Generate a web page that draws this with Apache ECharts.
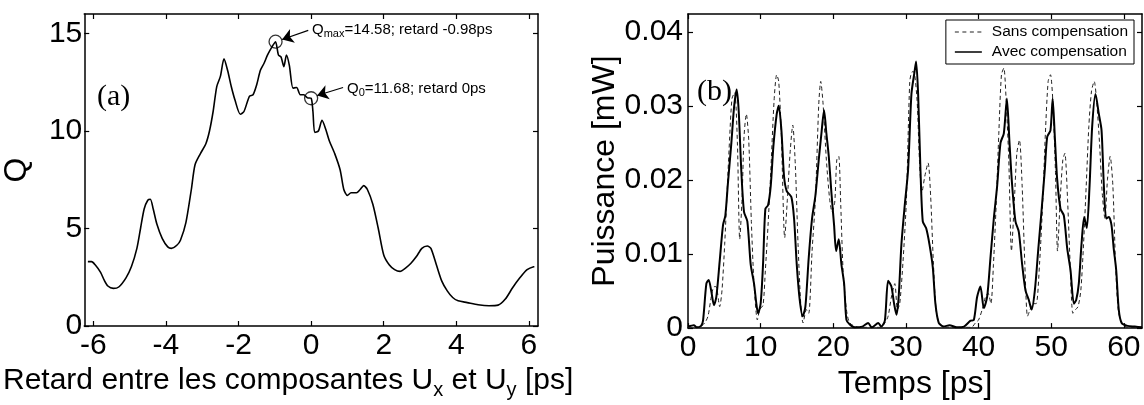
<!DOCTYPE html>
<html>
<head>
<meta charset="utf-8">
<script src="https://cdn.jsdelivr.net/npm/echarts@6/dist/echarts.min.js"></script>
<style>
html,body{margin:0;padding:0;background:#fff;}
#c{width:1144px;height:405px;}
</style>
</head>
<body>
<div id="c"></div>
<script>
// ---------- Panel (a): Q vs retard ----------
const retard = [-6.15,-6.05,-5.95,-5.8,-5.7,-5.6,-5.45,-5.3,-5.1,-4.95,-4.8,-4.7,-4.6,-4.5,-4.43,-4.35,-4.25,-4.1,-3.95,-3.85,-3.7,-3.6,-3.45,-3.3,-3.2,-3.05,-2.9,-2.8,-2.7,-2.6,-2.5,-2.4,-2.3,-2.2,-2.1,-1.95,-1.85,-1.7,-1.6,-1.5,-1.4,-1.3,-1.2,-1.05,-0.98,-0.9,-0.83,-0.75,-0.68,-0.6,-0.5,-0.4,-0.3,-0.2,-0.1,0,0.05,0.1,0.2,0.3,0.4,0.5,0.65,0.8,0.9,1.0,1.1,1.25,1.35,1.45,1.55,1.7,1.85,2.0,2.15,2.3,2.45,2.6,2.75,2.9,3.05,3.2,3.3,3.45,3.6,3.75,3.9,4.05,4.3,4.6,4.9,5.15,5.35,5.55,5.75,5.95,6.15];
const qValues = [3.3,3.3,3.14,2.75,2.35,2.05,1.93,2.0,2.47,3.05,3.98,5.0,6.0,6.45,6.5,6.0,5.23,4.48,4.06,3.98,4.14,4.4,5.3,7.0,8.26,8.84,9.35,10.0,11.0,12.28,12.8,13.7,13.1,12.28,11.6,10.86,11.0,11.78,11.86,12.37,13.1,13.46,13.9,14.4,14.58,13.9,13.8,13.3,13.9,13.37,12.2,12.23,11.86,11.86,11.7,11.68,11.0,9.93,10.0,10.55,10.1,9.5,8.84,8.0,7.0,6.7,6.83,6.83,7.0,7.2,7.0,6.24,5.0,3.64,3.14,2.89,2.8,2.97,3.22,3.56,3.98,4.1,3.98,3.14,2.3,1.8,1.46,1.29,1.2,1.09,1.04,1.07,1.38,1.96,2.47,2.89,3.05];
const annotX = [-0.98, 0];
const annotY = [14.58, 11.68];
const xTicksA = [-6,-4,-2,0,2,4,6];
const yTicksA = [0,5,10,15];

// ---------- Panel (b): Puissance vs temps ----------
const tAvec = [0,0.8,1.2,1.8,2.07,2.53,2.85,3.2,3.58,3.9,4.36,4.82,5.14,5.5,5.97,6.34,6.7,6.98,7.35,7.71,8.17,8.63,9.09,9.41,9.64,10.0,10.33,10.65,11.02,11.39,11.75,12.21,12.49,12.86,13.22,13.59,14.23,14.6,14.97,15.38,15.79,16.16,16.62,17.08,17.54,18.0,18.37,18.73,19.05,19.38,19.74,20.11,20.39,20.75,21.12,21.49,21.81,22.27,23.0,24.0,24.8,25.3,26.2,26.6,27.1,27.55,28.0,28.37,28.7,29.0,29.38,29.84,30.3,30.76,31.2,31.4,31.68,32.0,32.32,32.78,33.24,33.7,34.06,34.52,35.2,36.0,37.0,38.0,38.9,39.35,39.8,40.26,40.72,41.18,41.64,42.1,42.56,43.02,43.48,43.9,44.26,44.6,45.08,45.54,46.0,46.46,46.92,47.3,47.75,48.2,48.66,49.12,49.45,49.9,50.2,50.5,50.82,51.28,51.74,52.2,52.66,53.12,53.44,53.8,54.17,54.54,54.9,55.28,55.64,56.1,56.56,56.93,57.25,57.57,57.94,58.3,58.6,58.95,59.3,59.7,60.5,61.5,62.5];
const pAvec = [0.0002,0.0004,0.0001,0.0003,0.001,0.006,0.0065,0.005,0.0031,0.0042,0.009,0.0139,0.0152,0.0196,0.025,0.0298,0.0322,0.0293,0.021,0.0157,0.0144,0.0086,0.006,0.0033,0.002,0.0033,0.0086,0.0161,0.0166,0.0192,0.0245,0.0289,0.030,0.0267,0.0205,0.0185,0.0177,0.0148,0.0086,0.0038,0.0016,0.0029,0.0095,0.0148,0.0179,0.0227,0.0263,0.0294,0.0263,0.0232,0.0183,0.0139,0.0104,0.012,0.0086,0.006,0.0011,0.0005,0.0001,0.0002,0.0007,0.0001,0.0007,0.0002,0.001,0.0064,0.0056,0.0033,0.0018,0.0042,0.0113,0.0166,0.0214,0.0316,0.0347,0.036,0.0316,0.0214,0.0144,0.0135,0.0113,0.0082,0.0033,0.0007,0.0002,0.0004,0.0001,0.0002,0.001,0.0011,0.0042,0.0056,0.0027,0.0042,0.0095,0.0148,0.0192,0.025,0.0263,0.031,0.025,0.0196,0.0144,0.013,0.0086,0.0051,0.0038,0.0025,0.0051,0.0104,0.0157,0.0214,0.0258,0.0267,0.031,0.0258,0.0201,0.0161,0.0152,0.0108,0.0078,0.0033,0.0038,0.006,0.0113,0.015,0.0135,0.0192,0.0272,0.0316,0.0289,0.0267,0.0192,0.0148,0.015,0.0139,0.0108,0.0078,0.0025,0.0007,0.0003,0.0002,0.0001];
const tSans = [0,1.5,2.3,2.75,3.2,3.58,3.86,4.36,4.68,5.05,5.42,5.74,6.06,6.43,6.8,7.12,7.44,7.71,8.03,8.36,8.72,9.09,9.55,9.87,10.33,10.65,11.02,11.39,11.85,12.21,12.49,12.86,13.31,13.68,14.05,14.42,14.78,15.15,15.52,15.84,16.3,16.62,17.08,17.54,18.0,18.27,18.6,19.05,19.5,19.83,20.2,20.48,20.75,21.03,21.35,21.81,22.27,23.5,26.5,27.1,27.55,28.0,28.47,28.83,29.15,29.6,30.07,30.53,30.85,31.08,31.54,31.86,32.2,32.6,33.05,33.4,33.79,34.15,34.6,35.5,39.0,39.57,40.0,40.5,40.95,41.32,41.7,42.05,42.42,42.79,43.15,43.48,43.8,44.16,44.53,44.9,45.27,45.63,46.0,46.37,46.74,47.1,47.47,47.93,48.39,48.85,49.2,49.58,49.9,50.22,50.59,50.87,51.24,51.6,51.88,52.25,52.61,52.98,53.35,53.7,54.08,54.45,54.82,55.18,55.55,55.92,56.29,56.65,57.02,57.39,57.75,58.12,58.49,58.86,59.22,59.68,60.5,62.5];
const pSans = [0.0001,0.0001,0.0007,0.0016,0.0042,0.0056,0.0056,0.0029,0.0051,0.0113,0.0192,0.0258,0.031,0.0318,0.025,0.012,0.0174,0.0258,0.0289,0.0254,0.0144,0.006,0.0011,0.0025,0.0031,0.0078,0.0139,0.021,0.0307,0.0342,0.0333,0.0258,0.0122,0.0174,0.0236,0.0274,0.0219,0.0113,0.0033,0.0007,0.0025,0.002,0.0104,0.0174,0.0302,0.0333,0.0302,0.0227,0.0174,0.0157,0.017,0.0227,0.0232,0.0166,0.0078,0.0025,0.0007,0.0001,0.0001,0.0007,0.0016,0.0042,0.006,0.0025,0.0033,0.009,0.0174,0.0333,0.0346,0.0346,0.0307,0.0227,0.0183,0.0205,0.0223,0.0179,0.0086,0.0025,0.0007,0.0001,0.0001,0.0007,0.0011,0.0025,0.0042,0.0047,0.0033,0.0086,0.0166,0.0263,0.0342,0.0351,0.0307,0.0227,0.0104,0.0166,0.0236,0.0254,0.0192,0.0086,0.0016,0.0025,0.0033,0.0033,0.0086,0.0174,0.0263,0.0333,0.0342,0.0307,0.021,0.0104,0.0174,0.0227,0.0236,0.0174,0.0086,0.002,0.0025,0.0029,0.0051,0.0113,0.0192,0.0272,0.032,0.0333,0.0302,0.025,0.0183,0.0148,0.0201,0.0232,0.0192,0.0086,0.0025,0.0007,0.0001,0.0001];
const xTicksB = [0,10,20,30,40,50,60];
const yTicksB = [0,0.01,0.02,0.03,0.04];
const seriesNames = ['Sans compensation','Avec compensation'];

const zip = (a,b) => a.map((v,i) => [v,b[i]]);

const FONT = 'Liberation Sans, Arial, sans-serif';
const tickFont = 30;
const fmtB = v => v === 0 ? '0' : v.toFixed(2);

// legend icons: line samples (tiny corner points keep the 27x12 box unscaled)
const ICON_BOX = 'M0,0h0.01v0.01h-0.01z M26.99,11.99h0.01v0.01h-0.01z ';
const ICON_SOLID = 'path://' + ICON_BOX + 'M0,5.2h27v1.6h-27z';
const ICON_DASH = 'path://' + ICON_BOX + 'M0,5.5h4v0.9h-4z M7.5,5.5h4v0.9h-4z M15,5.5h4v0.9h-4z M22.5,5.5h4v0.9h-4z';

function mainX(gi, min, max, ticks, fmt, name, nameGap, nameFont, rich, namePad) {
  return {
    type:'value', gridIndex:gi, position:'bottom', min:min, max:max,
    axisLine:{show:true, onZero:false, lineStyle:{color:'#000', width:1.5}},
    axisTick:{show:true, inside:true, length:5, customValues:ticks, lineStyle:{color:'#000', width:1.2}},
    axisLabel:{customValues:ticks, formatter:fmt, color:'#000', fontFamily:FONT, fontSize:tickFont, margin:5},
    splitLine:{show:false},
    name:name, nameLocation:'middle', nameGap:nameGap,
    nameTextStyle:{color:'#000', fontFamily:FONT, fontSize:nameFont, rich:rich, padding:namePad}
  };
}
function mirrorX(gi, min, max, ticks) {
  return {
    type:'value', gridIndex:gi, position:'top', min:min, max:max,
    axisLine:{show:true, onZero:false, lineStyle:{color:'#000', width:1.5}},
    axisTick:{show:true, inside:true, length:5, customValues:ticks, lineStyle:{color:'#000', width:1.2}},
    axisLabel:{show:false}, splitLine:{show:false}
  };
}
function mainY(gi, min, max, ticks, fmt, name, nameGap, margin) {
  return {
    type:'value', gridIndex:gi, position:'left', min:min, max:max,
    axisLine:{show:true, onZero:false, lineStyle:{color:'#000', width:1.5}},
    axisTick:{show:true, inside:true, length:5, customValues:ticks, lineStyle:{color:'#000', width:1.2}},
    axisLabel:{customValues:ticks, formatter:fmt, color:'#000', fontFamily:FONT, fontSize:tickFont, margin:margin},
    splitLine:{show:false},
    name:name, nameLocation:'middle', nameGap:nameGap,
    nameTextStyle:{color:'#000', fontFamily:FONT, fontSize:32}
  };
}
function mirrorY(gi, min, max, ticks) {
  return {
    type:'value', gridIndex:gi, position:'right', min:min, max:max,
    axisLine:{show:true, onZero:false, lineStyle:{color:'#000', width:1.5}},
    axisTick:{show:true, inside:true, length:5, customValues:ticks, lineStyle:{color:'#000', width:1.2}},
    axisLabel:{show:false}, splitLine:{show:false}
  };
}

const chart = echarts.init(document.getElementById('c'), null, {renderer:'canvas'});
chart.setOption({
  animation:false,
  backgroundColor:'#fff',
  grid:[
    {left:84, top:14, width:454, height:318, containLabel:false},
    {left:688, top:14, width:454, height:318, containLabel:false}
  ],
  legend:{
    show:true, orient:'vertical', right:10, top:20,
    data:[{name:seriesNames[0], icon:ICON_DASH}, {name:seriesNames[1], icon:ICON_SOLID}],
    backgroundColor:'#fff', borderColor:'#000', borderWidth:1,
    padding:[4,6,4,9], itemWidth:27, itemHeight:12, itemGap:4,
    textStyle:{color:'#000', fontFamily:FONT, fontSize:15.5, padding:[0,0,0,5]}
  },
  xAxis:[
    mainX(0, -6.25, 6.25, xTicksA, v => String(v), 'Retard entre les composantes U{sub|x} et U{sub|y} [ps]', 36, 30,
      {sub:{fontSize:20, fontFamily:FONT, color:'#000', padding:[18,0,0,0]}}, [0,46,0,0]),
    mirrorX(0, -6.25, 6.25, xTicksA),
    mainX(1, 0, 62.5, xTicksB, v => String(v), 'Temps [ps]', 35, 32, {}, 0),
    mirrorX(1, 0, 62.5, xTicksB)
  ],
  yAxis:[
    mainY(0, 0, 16, yTicksA, v => String(v), 'Q', 51, 2),
    mirrorY(0, 0, 16, yTicksA),
    mainY(1, 0, 0.0424, yTicksB, fmtB, 'Puissance [mW]', 67, 5),
    mirrorY(1, 0, 0.0424, yTicksB)
  ],
  series:[
    {
      type:'line', name:'Q', xAxisIndex:0, yAxisIndex:0,
      data:zip(retard, qValues), symbol:'none', smooth:0.25,
      lineStyle:{color:'#000', width:1.6}, itemStyle:{color:'#000'},
      markLine:{
        silent:true, symbol:['none','arrow'], symbolSize:11,
        itemStyle:{color:'#000'},
        lineStyle:{color:'#000', width:1.2, type:'solid'}, label:{show:false},
        data:[
          [{coord:[annotX[0]+0.90, annotY[0]+0.58]}, {coord:[annotX[0]+0.18, annotY[0]+0.11]}],
          [{coord:[annotX[1]+0.88, annotY[1]+0.55]}, {coord:[annotX[1]+0.165, annotY[1]+0.14]}]
        ]
      }
    },
    {
      type:'scatter', name:'annot', xAxisIndex:0, yAxisIndex:0,
      data:zip(annotX, annotY), symbol:'circle', symbolSize:13,
      itemStyle:{color:'rgba(0,0,0,0)', borderColor:'#000', borderWidth:1.3}
    },
    {
      type:'line', name:seriesNames[0], xAxisIndex:2, yAxisIndex:2,
      data:zip(tSans, pSans), symbol:'none', smooth:0.25,
      itemStyle:{color:'#222'},
      lineStyle:{color:'#222', width:1, type:[4,3]}
    },
    {
      type:'line', name:seriesNames[1], xAxisIndex:2, yAxisIndex:2,
      data:zip(tAvec, pAvec), symbol:'none', smooth:0.25,
      itemStyle:{color:'#000'},
      lineStyle:{color:'#000', width:2}
    }
  ],
  graphic:[
    {type:'text', left:97, top:82, style:{text:'(a)', font:'30px "Liberation Serif", "Times New Roman", serif', fill:'#000'}},
    {type:'text', left:697, top:77, style:{text:'(b)', font:'30px "Liberation Serif", "Times New Roman", serif', fill:'#000'}},
    {type:'text', left:312, top:22, style:{
      rich:{
        m:{font:'15px "Liberation Sans", Arial, sans-serif', fill:'#000'},
        s:{font:'11px "Liberation Sans", Arial, sans-serif', fill:'#000', padding:[9,0,0,0]}
      },
      text:'{m|Q}{s|max}{m|=14.58; retard -0.98ps}'
    }},
    {type:'text', left:347, top:81, style:{
      rich:{
        m:{font:'15px "Liberation Sans", Arial, sans-serif', fill:'#000'},
        s:{font:'11px "Liberation Sans", Arial, sans-serif', fill:'#000', padding:[9,0,0,0]}
      },
      text:'{m|Q}{s|0}{m|=11.68; retard 0ps}'
    }}
  ]
});
</script>
</body>
</html>
